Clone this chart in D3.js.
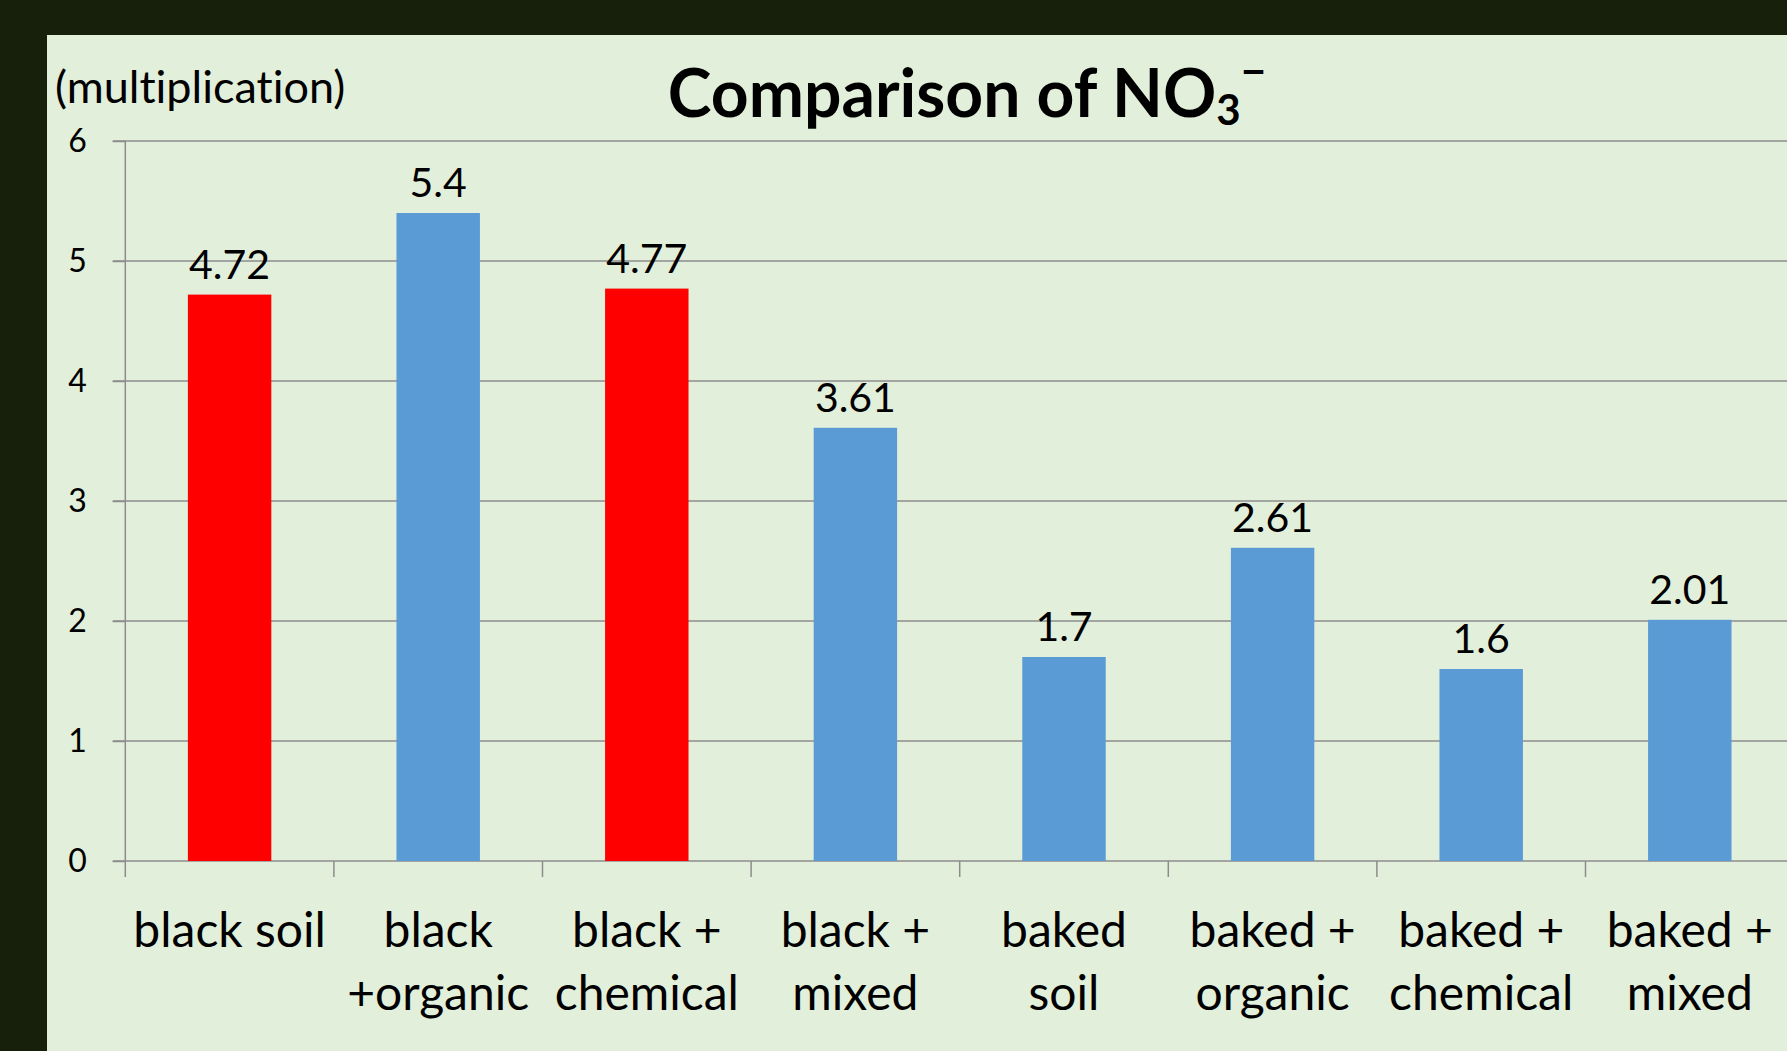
<!DOCTYPE html>
<html>
<head>
<meta charset="utf-8">
<script src="https://cdn.jsdelivr.net/npm/d3@7"></script>
<style>
  html, body { margin: 0; padding: 0; background: #17200a; }
  svg { display: block; }
  text { font-family: Lato, "Noto Sans", sans-serif; fill: #000; font-variant-ligatures: none; }
</style>
</head>
<body>
<svg width="1787" height="1051"></svg>
<script>
// chart values
const categories = [
  ["black soil"],
  ["black", "+organic"],
  ["black +", "chemical"],
  ["black +", "mixed"],
  ["baked", "soil"],
  ["baked +", "organic"],
  ["baked +", "chemical"],
  ["baked +", "mixed"]
];
const values = [4.72, 5.4, 4.77, 3.61, 1.7, 2.61, 1.6, 2.01];
const valueLabels = ["4.72", "5.4", "4.77", "3.61", "1.7", "2.61", "1.6", "2.01"];
const highlighted = [true, false, true, false, false, false, false, false];
const yTicks = [0, 1, 2, 3, 4, 5, 6];

const W = 1787, H = 1051;
const svg = d3.select('svg');

// dark frame + light panel
svg.append('rect').attr('width', W).attr('height', H).attr('fill', '#17200a');
svg.append('rect')
  .attr('x', 47).attr('y', 35)
  .attr('width', W - 47).attr('height', H - 35)
  .attr('fill', '#e2efda');

const plotLeft = 125.3, plotTop = 141, plotBottom = 861;
const step = 208.6;

const x = d3.scaleBand()
  .domain(d3.range(categories.length))
  .range([plotLeft, plotLeft + step * categories.length])
  .padding(0);

const y = d3.scaleLinear()
  .domain([0, 6])
  .range([plotBottom, plotTop]);

const g = svg.append('g');

// gridlines
g.selectAll('line.grid')
  .data(yTicks)
  .join('line')
  .attr('class', 'grid')
  .attr('x1', plotLeft - 12.6)
  .attr('x2', W)
  .attr('y1', d => y(d))
  .attr('y2', d => y(d))
  .attr('stroke', '#8c8c8c')
  .attr('stroke-width', 1.5);

// y axis
const yAxis = g.append('g')
  .attr('transform', `translate(${plotLeft},0)`)
  .call(d3.axisLeft(y).tickValues(yTicks).tickFormat(d3.format('d')).tickSize(12.6).tickPadding(26));
yAxis.select('.domain').remove();
yAxis.selectAll('.tick line').attr('stroke', '#8c8c8c').attr('stroke-width', 1.5);
yAxis.selectAll('.tick text')
  .style('font-family', 'Lato')
  .style('font-size', '32px')
  .attr('fill', '#000');

// y axis line, running down to the category ticks
g.append('line')
  .attr('x1', plotLeft).attr('x2', plotLeft)
  .attr('y1', plotTop).attr('y2', plotBottom + 16)
  .attr('stroke', '#8c8c8c')
  .attr('stroke-width', 1.5);

// category boundary ticks
g.selectAll('line.xtick')
  .data(d3.range(1, categories.length))
  .join('line')
  .attr('class', 'xtick')
  .attr('x1', d => x(d)).attr('x2', d => x(d))
  .attr('y1', plotBottom).attr('y2', plotBottom + 16)
  .attr('stroke', '#8c8c8c')
  .attr('stroke-width', 1.5);

// bars
const bw = x.bandwidth();
g.selectAll('rect.bar')
  .data(values)
  .join('rect')
  .attr('class', 'bar')
  .attr('x', (d, i) => x(i) + bw * 0.3)
  .attr('width', bw * 0.4)
  .attr('y', d => y(d))
  .attr('height', d => y(0) - y(d))
  .attr('fill', (d, i) => highlighted[i] ? '#ff0000' : '#5b9bd5');

// value labels
g.selectAll('text.val')
  .data(values)
  .join('text')
  .attr('class', 'val')
  .attr('x', (d, i) => x(i) + bw / 2)
  .attr('y', d => y(d) - 16)
  .attr('text-anchor', 'middle')
  .style('font-size', '41px')
  .text((d, i) => valueLabels[i]);

// category labels (two lines)
g.selectAll('text.cat')
  .data(categories)
  .join('text')
  .attr('class', 'cat')
  .attr('text-anchor', 'middle')
  .style('font-size', '48px')
  .each(function(lines, i) {
    const t = d3.select(this);
    lines.forEach((ln, j) => {
      t.append('tspan')
        .attr('x', x(i) + bw / 2)
        .attr('y', 947 + j * 63)
        .text(ln);
    });
  });

// axis unit
svg.append('text')
  .attr('x', 55)
  .attr('y', 103)
  .style('font-size', '45px')
  .text('(multiplication)');

// title
const title = svg.append('text')
  .attr('x', 967)
  .attr('y', 117)
  .attr('text-anchor', 'middle')
  .style('font-size', '66px')
  .style('font-weight', 'bold');
title.append('tspan').text('Comparison of NO');
title.append('tspan').attr('dy', 8).style('font-size', '42px').text('3');
title.append('tspan').attr('dy', -38).style('font-size', '44px').text('\u2212');
</script>
</body>
</html>
